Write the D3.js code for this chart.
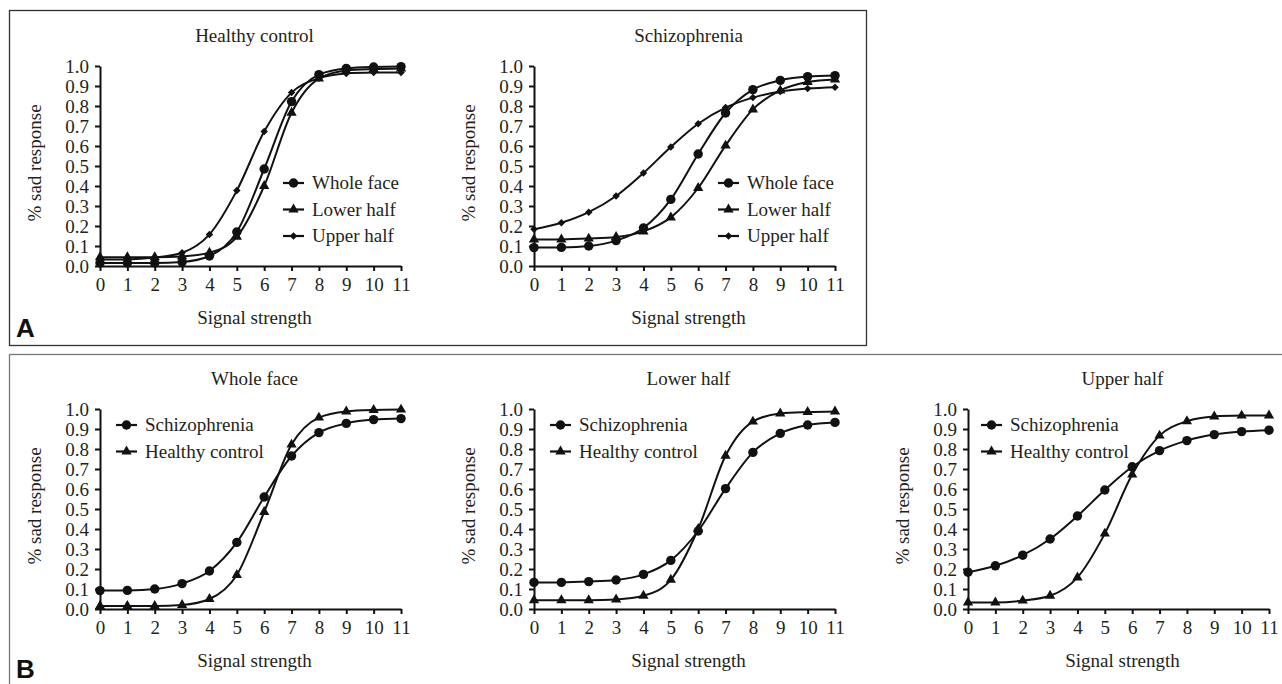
<!DOCTYPE html>
<html>
<head>
<meta charset="utf-8">
<script src="https://cdn.jsdelivr.net/npm/d3@7"></script>
<style>
  body { margin: 0; background: #fff; }
  svg text { font-family: "Liberation Serif", "DejaVu Serif", serif; fill: #231f20; }
</style>
</head>
<body>
<div id="chart"></div>
<script>
// signal strength levels (x categories)
const signal = [0, 1, 2, 3, 4, 5, 6, 7, 8, 9, 10, 11];
const yTicks = [0, 0.1, 0.2, 0.3, 0.4, 0.5, 0.6, 0.7, 0.8, 0.9, 1.0];

// % sad response, healthy control
const hcWhole = [0.015, 0.015, 0.015, 0.02, 0.05, 0.17, 0.485, 0.822, 0.957, 0.988, 0.995, 0.997];
const hcLower = [0.044, 0.044, 0.044, 0.048, 0.066, 0.146, 0.40, 0.766, 0.937, 0.978, 0.985, 0.988];
const hcUpper = [0.033, 0.033, 0.042, 0.066, 0.158, 0.377, 0.672, 0.867, 0.939, 0.963, 0.967, 0.968];

// % sad response, schizophrenia
const szWhole = [0.092, 0.093, 0.10, 0.127, 0.19, 0.333, 0.56, 0.765, 0.882, 0.928, 0.947, 0.952];
const szLower = [0.133, 0.133, 0.137, 0.145, 0.173, 0.243, 0.39, 0.602, 0.783, 0.878, 0.92, 0.933];
const szUpper = [0.184, 0.216, 0.269, 0.35, 0.465, 0.595, 0.711, 0.792, 0.842, 0.872, 0.887, 0.894];

const W = 1282, H = 684;
const plotW = 301, plotH = 200;
const serif = "'Liberation Serif', 'DejaVu Serif', serif";

const svg = d3.select("#chart").append("svg")
    .attr("width", W)
    .attr("height", H);

// panel frames
svg.append("rect")
    .attr("x", 9.5).attr("y", 10.5)
    .attr("width", 857).attr("height", 335)
    .attr("fill", "none").attr("stroke", "#333").attr("stroke-width", 1.3);
svg.append("rect")
    .attr("x", 9.5).attr("y", 354.5)
    .attr("width", 1290).attr("height", 400)
    .attr("fill", "none").attr("stroke", "#777").attr("stroke-width", 1.3);

svg.append("text").attr("x", 16).attr("y", 337)
    .style("font-family", "'Liberation Sans', Arial, sans-serif")
    .style("font-weight", "bold").style("font-size", "26px")
    .style("fill", "#111")
    .text("A");
svg.append("text").attr("x", 16).attr("y", 678)
    .style("font-family", "'Liberation Sans', Arial, sans-serif")
    .style("font-weight", "bold").style("font-size", "26px")
    .style("fill", "#111")
    .text("B");

const markers = {
    circle: d3.symbol().type(d3.symbolCircle).size(70),
    triangle: d3.symbol().type(d3.symbolTriangle).size(46),
    diamond: d3.symbol().type(d3.symbolSquare).size(28)
};

function drawPanel(left, top, title, series, legendX, legendY) {
    const g = svg.append("g").attr("transform", `translate(${left},${top})`);

    const x = d3.scaleLinear().domain([0, 11]).range([0, plotW]);
    const y = d3.scaleLinear().domain([0, 1]).range([plotH, 0]);

    // title
    g.append("text")
        .attr("x", plotW / 2 + 4).attr("y", -24)
        .attr("text-anchor", "middle")
        .style("font-family", serif)
        .style("font-size", "19px")
        .text(title);

    // axes
    const xAxis = g.append("g")
        .attr("transform", `translate(0,${plotH})`)
        .call(d3.axisBottom(x).tickValues(signal).tickSize(5).tickSizeOuter(0).tickPadding(7));
    const yAxis = g.append("g")
        .call(d3.axisLeft(y).tickValues(yTicks).tickFormat(d3.format(".1f"))
            .tickSize(5).tickSizeOuter(0).tickPadding(6));
    [xAxis, yAxis].forEach(a => {
        a.attr("font-family", serif).attr("font-size", 19);
        a.select(".domain").attr("stroke", "#111").attr("stroke-width", 2);
        a.selectAll(".tick line").attr("stroke", "#111").attr("stroke-width", 2);
        a.selectAll(".tick text")
            .style("font-family", serif)
            .style("font-size", "19px")
            .attr("fill", "#231f20");
    });

    // axis titles
    g.append("text")
        .attr("x", plotW / 2 + 4).attr("y", plotH + 58)
        .attr("text-anchor", "middle")
        .style("font-family", serif)
        .style("font-size", "19px")
        .text("Signal strength");
    g.append("text")
        .attr("transform", `translate(-59,${plotH / 2 - 3}) rotate(-90)`)
        .attr("text-anchor", "middle")
        .style("font-family", serif)
        .style("font-size", "19px")
        .text("% sad response");

    const line = d3.line()
        .x((d, i) => x(signal[i]))
        .y(d => y(d))
        .curve(d3.curveMonotoneX);

    series.forEach(s => {
        g.append("path")
            .datum(s.values)
            .attr("d", line)
            .attr("fill", "none")
            .attr("stroke", "#111")
            .attr("stroke-width", 2);
        g.selectAll(null)
            .data(s.values)
            .enter()
            .append("path")
            .attr("d", markers[s.marker])
            .attr("transform", (d, i) => `translate(${x(signal[i])},${y(d)})${s.marker === "diamond" ? " rotate(45)" : ""}`)
            .attr("fill", "#111");
    });

    // legend
    const lg = g.append("g").attr("transform", `translate(${legendX},${legendY})`);
    series.forEach((s, i) => {
        const row = lg.append("g").attr("transform", `translate(0,${i * 26.5})`);
        row.append("line")
            .attr("x1", 0).attr("x2", 21)
            .attr("stroke", "#111").attr("stroke-width", 2.2);
        row.append("path")
            .attr("d", markers[s.marker])
            .attr("transform", `translate(10.5,0)${s.marker === "diamond" ? " rotate(45)" : ""}`)
            .attr("fill", "#111");
        row.append("text")
            .attr("x", 29).attr("y", 0).attr("dy", "0.33em")
            .style("font-family", serif)
            .style("font-size", "19px")
            .text(s.name);
    });
}

// A: by group
drawPanel(100, 66, "Healthy control", [
    { name: "Whole face", values: hcWhole, marker: "circle" },
    { name: "Lower half", values: hcLower, marker: "triangle" },
    { name: "Upper half", values: hcUpper, marker: "diamond" }
], 183, 117);
drawPanel(534, 66, "Schizophrenia", [
    { name: "Whole face", values: szWhole, marker: "circle" },
    { name: "Lower half", values: szLower, marker: "triangle" },
    { name: "Upper half", values: szUpper, marker: "diamond" }
], 184, 117);

// B: by face region
drawPanel(100, 409, "Whole face", [
    { name: "Schizophrenia", values: szWhole, marker: "circle" },
    { name: "Healthy control", values: hcWhole, marker: "triangle" }
], 16, 16);
drawPanel(534, 409, "Lower half", [
    { name: "Schizophrenia", values: szLower, marker: "circle" },
    { name: "Healthy control", values: hcLower, marker: "triangle" }
], 16, 16);
drawPanel(968, 409, "Upper half", [
    { name: "Schizophrenia", values: szUpper, marker: "circle" },
    { name: "Healthy control", values: hcUpper, marker: "triangle" }
], 13, 16);
</script>
</body>
</html>
